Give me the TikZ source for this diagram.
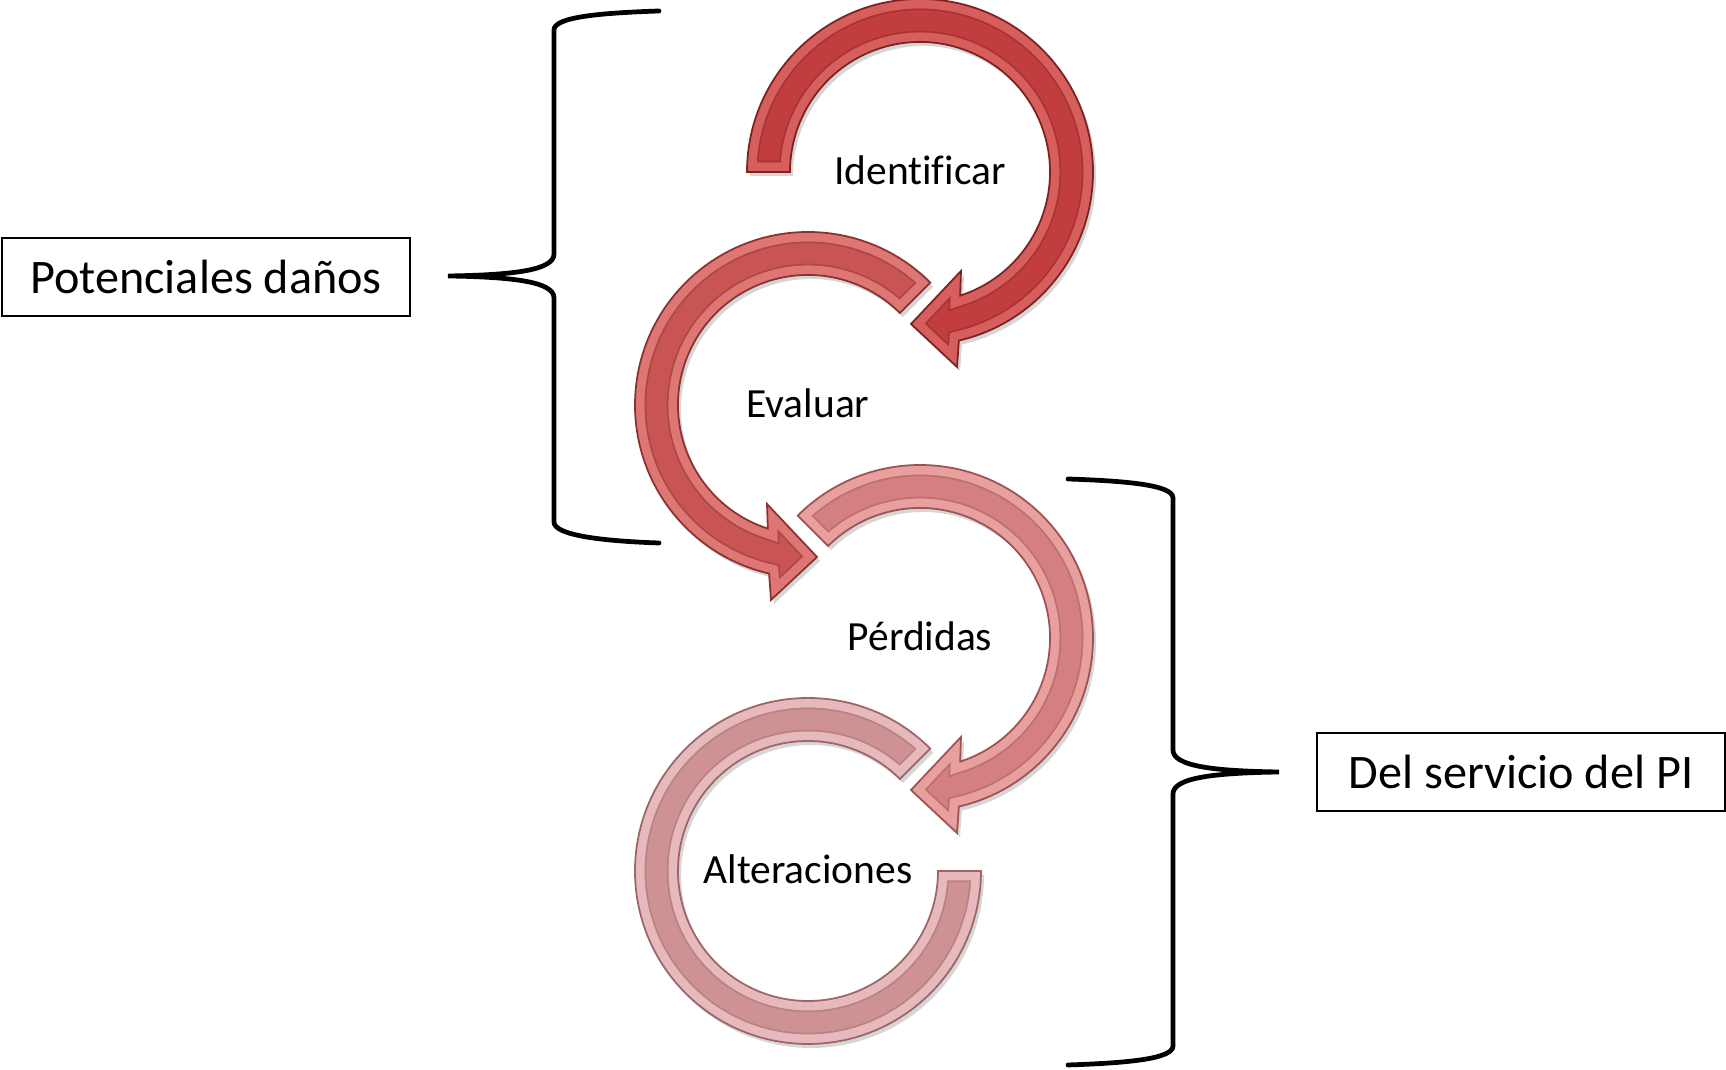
\documentclass[tikz,border=0pt]{standalone}
\usepackage{fontspec}
\setmainfont{Carlito}[Ligatures=NoCommon]
\usetikzlibrary{calc}
\definecolor{aBase}{RGB}{194,62,62}\definecolor{aBev}{RGB}{214,94,92}\definecolor{aEdge}{RGB}{125,34,34}
\definecolor{bBase}{RGB}{200,84,84}\definecolor{bBev}{RGB}{222,118,116}\definecolor{bEdge}{RGB}{138,50,50}
\definecolor{cBase}{RGB}{213,128,128}\definecolor{cBev}{RGB}{232,160,158}\definecolor{cEdge}{RGB}{158,82,82}
\definecolor{dBase}{RGB}{206,146,149}\definecolor{dBev}{RGB}{230,186,188}\definecolor{dEdge}{RGB}{158,100,104}
\newcommand\shapeOne{(180:173) arc[start angle=180, end angle=-77, radius=173] -- (37,-195) -- (-9,-152) -- (41,-99) -- (-72:130) arc[start angle=-72, end angle=180, radius=130] -- cycle}
\newcommand\shapeTwo{(45:173) arc[start angle=45, end angle=257, radius=173] -- (-37,-195) -- (9,-152) -- (-41,-99) -- (252:130) arc[start angle=252, end angle=45, radius=130] -- cycle}
\newcommand\shapeThree{(135:173) arc[start angle=135, end angle=-77, radius=173] -- (37,-195) -- (-9,-152) -- (41,-99) -- (-72:130) arc[start angle=-72, end angle=135, radius=130] -- cycle}
\newcommand\shapeFour{(45:173) arc[start angle=45, end angle=360, radius=173] -- (0:130) arc[start angle=360, end angle=45, radius=130] -- cycle}
\newcommand\fancyarrow[5]{%
  \begin{scope}[shift={#1}]
    \fill[black, opacity=0.16, shift={(3,-4)}] #2;
    \fill[#3] #2;
    \begin{scope}
      \clip #2;
      \draw[#5!40!#3, line width=6.4pt, line join=miter] #2;
      \draw[#4, line width=5.4pt, line join=miter] #2;
    \end{scope}
    \draw[#5, line width=0.5pt, line join=miter] #2;
  \end{scope}}
\tikzset{
  steplbl/.style={font=\fontsize{11.8}{14}\selectfont, inner sep=0pt, anchor=base},
  labelbox/.style={draw, line width=0.5pt, font=\fontsize{13.7}{16}\selectfont, minimum width=4.08cm, minimum height=0.78cm, inner sep=0pt},
  bracel/.style={line width=1.35pt, line cap=round}
}
\begin{document}
\begin{tikzpicture}[x=0.01cm, y=0.01cm]
\useasboundingbox (0,0) rectangle (1726,1070);
\fill[white] (0,0) rectangle (1726,1070);
\coordinate (c1) at (920,898);
\coordinate (c2) at (808,665);
\coordinate (c3) at (920,432);
\coordinate (c4) at (808,199);
\fancyarrow{(c4)}{\shapeFour}{dBase}{dBev}{dEdge}
\fancyarrow{(c3)}{\shapeThree}{cBase}{cBev}{cEdge}
\fancyarrow{(c2)}{\shapeTwo}{bBase}{bBev}{bEdge}
\fancyarrow{(c1)}{\shapeOne}{aBase}{aBev}{aEdge}
\node[steplbl] (t1) at ($(c1)+(0,-13)$) {Identificar};
\node[steplbl] (t2) at ($(c2)+(0,-13)$) {Evaluar};
\node[steplbl] (t3) at ($(c3)+(0,-13)$) {Pérdidas};
\node[steplbl] (t4) at ($(c4)+(0,-13)$) {Alteraciones};
\node[labelbox] (pot) at (206,793) {Potenciales daños};
\node[labelbox] (del) at (1521,298) {Del servicio del PI};
\coordinate (b1tip) at ($(pot.east)+(37,1)$);
\coordinate (b1top) at (659,1059);
\coordinate (b1bot) at (659,527);
\draw[bracel] (b1top) .. controls (600,1057) and (554,1053) .. (554,1040) -- (554,816)
  .. controls (554,800) and (515,795) .. (b1tip)
  .. controls (515,793) and (554,788) .. (554,772) -- (554,548)
  .. controls (554,535) and (600,529) .. (b1bot);
\coordinate (b2tip) at ($(del.west)+(-37,0)$);
\coordinate (b2top) at (1068,591);
\coordinate (b2bot) at (1068,5);
\draw[bracel] (b2top) .. controls (1127,589) and (1173,585) .. (1173,572) -- (1173,320)
  .. controls (1173,304) and (1212,299) .. (b2tip)
  .. controls (1212,297) and (1173,292) .. (1173,276) -- (1173,24)
  .. controls (1173,11) and (1127,7) .. (b2bot);
\end{tikzpicture}
\end{document}
